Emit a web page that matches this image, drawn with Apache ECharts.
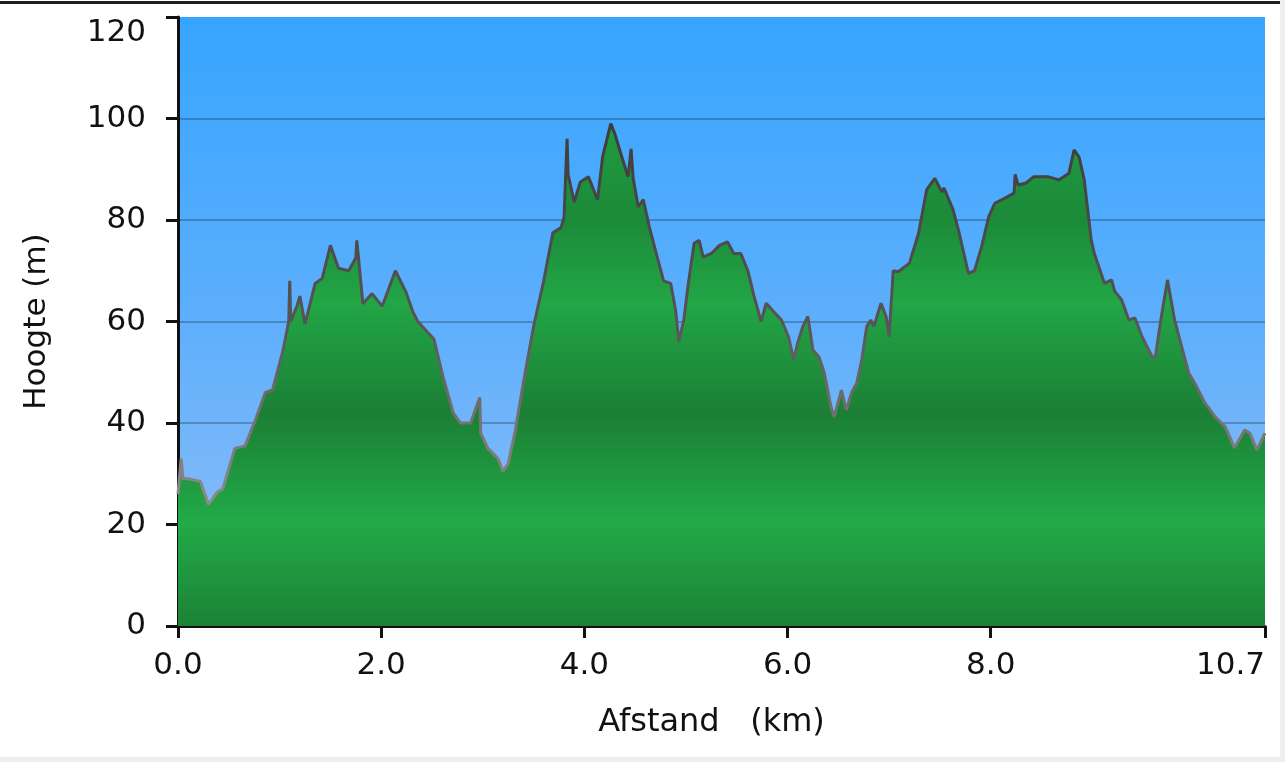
<!DOCTYPE html>
<html>
<head>
<meta charset="utf-8">
<script src="https://cdn.jsdelivr.net/npm/echarts@6/dist/echarts.min.js"></script>
<style>
html,body{margin:0;padding:0;background:#fff;}
#chart{width:1285px;height:762px;}
</style>
</head>
<body>
<div id="chart"></div>
<script>
// Distance along the route (km)
const distanceKm = [
  0.00, 0.03, 0.05, 0.06, 0.10, 0.22, 0.30, 0.39, 0.44, 0.56, 0.66, 0.76, 0.86, 0.93,
  1.03, 1.09, 1.10, 1.11, 1.17, 1.20, 1.25, 1.35, 1.42, 1.50, 1.58, 1.68, 1.75, 1.76, 1.82,
  1.91, 2.01, 2.14, 2.24, 2.31, 2.36, 2.52, 2.61, 2.71, 2.78, 2.88, 2.97, 2.98, 3.05, 3.15,
  3.20, 3.25, 3.32, 3.40, 3.50, 3.60, 3.69, 3.77, 3.80, 3.83, 3.84, 3.90, 3.96, 4.04, 4.13,
  4.18, 4.26, 4.30, 4.36, 4.43, 4.46, 4.48, 4.53, 4.58, 4.64, 4.72, 4.78, 4.85, 4.90, 4.93,
  4.98, 5.02, 5.08, 5.13, 5.17, 5.25, 5.33, 5.41, 5.47, 5.54, 5.61, 5.67, 5.74, 5.79, 5.86,
  5.94, 6.01, 6.06, 6.10, 6.15, 6.20, 6.25, 6.31, 6.36, 6.43, 6.46, 6.53, 6.58, 6.63, 6.68,
  6.73, 6.78, 6.82, 6.85, 6.92, 6.97, 7.00, 7.04, 7.09, 7.20, 7.29, 7.37, 7.45, 7.52, 7.54,
  7.63, 7.69, 7.78, 7.84, 7.91, 7.98, 8.04, 8.14, 8.23, 8.24, 8.27, 8.35, 8.42, 8.57, 8.67,
  8.77, 8.82, 8.87, 8.92, 8.99, 9.02, 9.12, 9.19, 9.22, 9.29, 9.36, 9.42, 9.49, 9.59, 9.62,
  9.68, 9.74, 9.81, 9.88, 9.95, 10.01, 10.11, 10.21, 10.31, 10.40, 10.50, 10.55, 10.62, 10.70
];
// Elevation (m)
const elevationM = [
  26, 33, 29, 29, 29, 28.5, 24, 26.5, 27, 35, 35.5, 40.5, 46, 46.5,
  54, 60, 68, 60, 63, 65, 59.5, 67.5, 68.5, 75, 70.5, 70, 72.5, 76, 63.5,
  65.5, 63, 70, 66, 62, 60, 56.5, 49, 42, 40, 40, 45, 38, 35, 33,
  30.5, 32, 38.5, 48, 59, 68, 77.5, 78.5, 80.5, 96, 89, 83.5, 87.5, 88.5, 84,
  92.5, 99, 97, 93, 88.5, 94, 88.3, 82.6, 84, 78.6, 72.5, 68, 67.5, 62, 56,
  60.5, 67, 75.4, 76, 72.7, 73.4, 75, 75.7, 73.4, 73.4, 70, 65, 60, 63.6, 62,
  60.3, 57, 52.5, 55.8, 59, 61, 54.4, 53, 50, 43, 41.2, 46.5, 42.6, 46, 47.8,
  52.4, 59, 60.3, 59, 63.6, 61, 57, 70, 69.8, 71.5, 77.4, 86, 88.2, 85.5, 86.3,
  82, 77.4, 69.5, 70, 74.7, 80.6, 83.3, 84.3, 85.3, 89, 86.9, 87.3, 88.5, 88.5, 87.9,
  89.2, 93.8, 92.4, 88, 76, 73.4, 67.5, 68.2, 66, 64.2, 60.3, 60.7, 57, 53, 53,
  61, 68.2, 60.3, 55, 49.8, 47.8, 43.9, 41.2, 39.2, 35.1, 38.6, 38, 34.7, 38
];
// Axis tick labels
const xTickValues = [0, 2, 4, 6, 8, 10.7];
const yTickValues = [0, 20, 40, 60, 80, 100, 120];

const points = distanceKm.map((d, i) => [d, elevationM[i]]);

const chart = echarts.init(document.getElementById('chart'), null, {renderer: 'canvas'});
const FONT = 'DejaVu Sans';
const GRID = {left: 178, top: 17, right: 20, bottom: 136};

chart.setOption({
  animation: false,
  backgroundColor: '#ffffff',
  graphic: [
    {type: 'rect', shape: {x: 0, y: 1, width: 1280, height: 3}, style: {fill: '#1e1e1e'}, z: 100},
    {type: 'rect', shape: {x: 1280, y: 0, width: 5, height: 762}, style: {fill: '#eeeeee'}, z: 100},
    {type: 'rect', shape: {x: 0, y: 757, width: 1285, height: 5}, style: {fill: '#eeeeee'}, z: 100}
  ],
  grid: {
    left: GRID.left, top: GRID.top, right: GRID.right, bottom: GRID.bottom,
    containLabel: false, outerBoundsMode: 'none',
    show: true, borderWidth: 0,
    backgroundColor: {
      type: 'linear', x: 0, y: 0, x2: 0, y2: 1,
      colorStops: [
        {offset: 0, color: '#36a5ff'},
        {offset: 0.5, color: '#5eaffc'},
        {offset: 1, color: '#95c0f6'}
      ]
    }
  },
  xAxis: {
    type: 'value', min: 0, max: 10.7,
    name: 'Afstand   (km)', nameLocation: 'middle', nameGap: 81,
    nameTextStyle: {fontFamily: FONT, fontSize: 32, color: '#111', padding: [0, 20, 0, 0]},
    axisLine: {show: true, onZero: false, lineStyle: {color: '#111', width: 3}},
    axisTick: {show: true, customValues: xTickValues, length: 12, lineStyle: {color: '#111', width: 3}},
    axisLabel: {customValues: xTickValues, margin: 24, fontFamily: FONT, fontSize: 31, color: '#111',
      alignMaxLabel: 'right',
      formatter: v => Number(v).toFixed(1)},
    splitLine: {show: false}
  },
  yAxis: {
    type: 'value', min: 0, max: 120, interval: 20,
    name: 'Hoogte (m)', nameLocation: 'middle', nameGap: 126, nameRotate: 90,
    nameTextStyle: {fontFamily: FONT, fontSize: 31, color: '#111'},
    axisLine: {show: true, lineStyle: {color: '#111', width: 3}},
    axisTick: {show: true, length: 12, lineStyle: {color: '#111', width: 3}},
    axisLabel: {margin: 32, fontFamily: FONT, fontSize: 31, color: '#111',
      verticalAlignMaxLabel: 'top',
      customValues: yTickValues},
    splitLine: {show: true, showMinLine: false, showMaxLine: false,
      lineStyle: {color: 'rgba(20,40,60,0.3)', width: 2}}
  },
  series: [{
    type: 'line',
    data: points,
    symbol: 'none',
    smooth: false,
    lineStyle: {
      width: 3,
      color: {type: 'linear', x: 0, y: GRID.top, x2: 0, y2: 626, global: true,
        colorStops: [{offset: 0, color: '#303030'}, {offset: 0.5, color: '#555555'}, {offset: 0.8, color: '#8c8c8c'}, {offset: 1, color: '#a0a0a0'}]}
    },
    areaStyle: {
      opacity: 1,
      color: {type: 'linear', x: 0, y: GRID.top, x2: 0, y2: 626, global: true,
        colorStops: [
          {offset: 0.00, color: '#22a044'},
          {offset: 0.22, color: '#1f973f'},
          {offset: 0.33, color: '#1c8a39'},
          {offset: 0.47, color: '#22a646'},
          {offset: 0.65, color: '#1b7f35'},
          {offset: 0.83, color: '#22aa48'},
          {offset: 1.00, color: '#1c8236'}
        ]}
    },
    z: 3
  }]
});
</script>
</body>
</html>
